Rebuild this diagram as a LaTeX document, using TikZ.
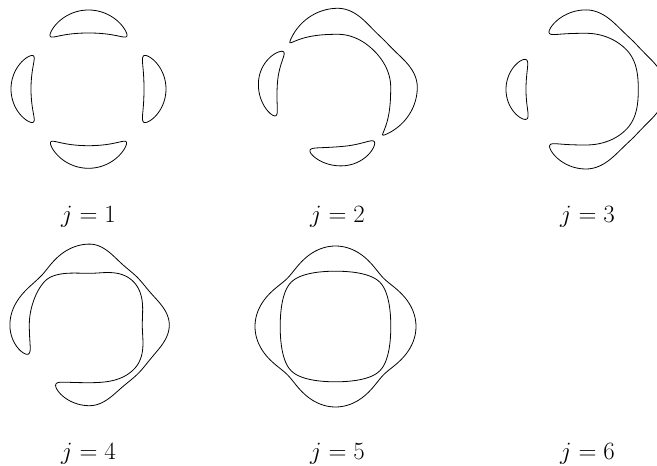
\documentclass[tikz,border=0pt]{standalone}
\usepackage{tikz}
% tip half-lobe: #1 axis angle, #2 signed extent H, #3 shape H0, #4 Ta, #5 rho_a, #6 rho_e, #7 side (+1 outer,-1 inner), #8 domain
\newcommand\tiph[8]{%
 -- plot[domain=#8, samples=45] ({#1+(#2)*sin(\x)}:{#5+(#6-#5)*sin(\x)*sin(\x)+(#7)*(#4)*sqrt(max(0,(cos(4*#3*sin(\x))-cos(4*#3))/(1-cos(4*#3))))})}
% join half-lobe (mid/thickness form): #1 axis, #2 dir, #3 Ta, #4 rho_a, #5 Tn, #6 rho_n, #7 side, #8 domain, #9 exponent
\newcommand\joinh[9]{%
 -- plot[domain=#8, samples=35] ({#1+(#2)*\x/2}:{#6+(#4-#6)*(1+cos(2*\x))/2+(#7)*((#5)^(#9)+((#3)^(#9)-(#5)^(#9))*(1+cos(2*\x))/2)^(1/(#9))})}
% join half-lobe (radius form): #1 axis, #2 dir, #3 radius at axis, #4 radius at neck, #5 exponent q, #6 domain
\newcommand\joinr[6]{%
 -- plot[domain=#6, samples=35] ({#1+(#2)*\x/2}:{#4+(#3-#4)*(max(0.00001,(1+cos(2*\x))/2))^(#5)})}
% crescent: #1 m, #2 H, #3 Ta, #4 rho_a, #5 rho_e at m-H, #6 rho_e at m+H
\newcommand\crescent[6]{%
 \draw[curve] ({#1-(#2)}:#5) \tiph{#1}{-#2}{#2}{#3}{#4}{#5}{1}{90:0}
   \tiph{#1}{#2}{#2}{#3}{#4}{#6}{1}{0:90}
   \tiph{#1}{#2}{#2}{#3}{#4}{#6}{-1}{90:0}
   \tiph{#1}{-#2}{#2}{#3}{#4}{#5}{-1}{0:90} -- cycle;}
\begin{document}
\begin{tikzpicture}[x=1pt,y=1pt]
\tikzset{curve/.style={line width=0.8pt, line join=round},
         lab/.style={anchor=base, inner sep=0pt, font=\fontsize{26}{31}\selectfont}}
\useasboundingbox (0,0) rectangle (657,466);
\clip (0,0) rectangle (657,466);
% j = 1
\begin{scope}[shift={(88.5,377)}]
 \crescent{0}{31}{11}{66.5}{64.5}{64.5}
 \crescent{90}{36}{11.5}{67.5}{65}{65}
 \crescent{180}{31}{10}{67.5}{64.5}{64.5}
 \crescent{270}{35.5}{11.3}{68}{65}{65}
\end{scope}
% j = 2
\begin{scope}[shift={(337.8,378.8)}]
 \crescent{175.8}{28.9}{9.5}{70}{65}{68.3}
 \crescent{275}{28.8}{9.7}{69.1}{68.7}{65.6}
 \draw[curve] (-46.8:65.6)
   \tiph{0}{-46.8}{43}{13.3}{66.2}{65.6}{1}{90:0}
   \joinr{0}{1}{79.5}{66}{1.3}{0:90}
   \joinr{90}{-1}{78.9}{66}{1.3}{90:0}
   \tiph{90}{47.1}{43}{13}{65.9}{65.3}{1}{0:90}
   \tiph{90}{47.1}{43}{13}{65.9}{65.3}{-1}{90:0}
   \joinr{90}{-1}{52.9}{51.4}{1}{0:90}
   \joinr{0}{1}{52.9}{51.4}{1}{90:0}
   \tiph{0}{-46.8}{43}{13.3}{66.2}{65.6}{-1}{0:90} -- cycle;
\end{scope}
% j = 3
\begin{scope}[shift={(586,376.5)}]
 \crescent{180}{26.5}{10}{70}{66.9}{66.4}
 \draw[curve] (123.1:67.1)
   \tiph{90}{33.1}{33.1}{11.7}{67.9}{67.1}{1}{90:0}
   \joinr{90}{-1}{79.6}{67.5}{1.3}{0:90}
   \joinr{0}{1}{80.1}{67.5}{1.3}{90:0}
   \joinr{0}{-1}{80.1}{67.5}{1.3}{0:90}
   \joinr{-90}{1}{79.5}{67.5}{1.3}{90:0}
   \tiph{-90}{-33}{33}{12}{67.5}{66.2}{1}{0:90}
   \tiph{-90}{-33}{33}{12}{67.5}{66.2}{-1}{90:0}
   \joinr{-90}{1}{55.5}{56.7}{1}{0:90}
   \joinr{0}{-1}{52.3}{56.7}{1}{90:0}
   \joinr{0}{1}{52.3}{56.7}{1}{0:90}
   \joinr{90}{-1}{56.2}{56.7}{1}{90:0}
   \tiph{90}{33.1}{33.1}{11.7}{67.9}{67.1}{-1}{0:90} -- cycle;
\end{scope}
% j = 4
\begin{scope}[shift={(89.5,141)}]
 \draw[curve] (205.4:67.7)
   \tiph{180}{25.4}{25.4}{9.7}{69.9}{67.7}{1}{90:0}
   \joinh{180}{-1}{9.7}{69.9}{3.2}{65.7}{1}{0:90}{1.6}
   \joinh{90}{1}{14.6}{66.3}{3.2}{65.7}{1}{90:0}{1.6}
   \joinr{90}{-1}{80.9}{67.5}{1.8}{0:90}
   \joinr{0}{1}{79.8}{67.5}{1.8}{90:0}
   \joinr{0}{-1}{79.8}{68.7}{1.8}{0:90}
   \joinr{-90}{1}{80.7}{68.7}{1.8}{90:0}
   \tiph{-90}{-29.6}{29.6}{11.5}{69.2}{67.9}{1}{0:90}
   \tiph{-90}{-29.6}{29.6}{11.5}{69.2}{67.9}{-1}{90:0}
   \joinr{-90}{1}{57.7}{62.7}{1}{0:90}
   \joinr{0}{-1}{52.8}{62.7}{1}{90:0}
   \joinr{0}{1}{52.8}{61.7}{1}{0:90}
   \joinr{90}{-1}{51.7}{61.7}{1}{90:0}
   \joinh{90}{1}{14.6}{66.3}{3.2}{65.7}{-1}{0:90}{1.6}
   \joinh{180}{-1}{9.7}{69.9}{3.2}{65.7}{-1}{90:0}{1.6}
   \tiph{180}{25.4}{25.4}{9.7}{69.9}{67.7}{-1}{0:90} -- cycle;
\end{scope}
% j = 5
\begin{scope}[shift={(335.5,139.5)}]
 \draw[curve] plot[domain=0:360, samples=241] (\x:{65.4+(67.9-65.4)*(1+cos(4*\x))/2+(2.75^1.6+(12.6^1.6-2.75^1.6)*(1+cos(4*\x))/2)^(1/1.6)}) -- cycle;
 \draw[curve] plot[domain=0:360, samples=241] (\x:{65.4+(67.9-65.4)*(1+cos(4*\x))/2-(2.75^1.6+(12.6^1.6-2.75^1.6)*(1+cos(4*\x))/2)^(1/1.6)}) -- cycle;
\end{scope}
% labels
\node[lab] (l1) at (88.5,243) {$j=1$};
\node[lab] (l2) at (337.5,243) {$j=2$};
\node[lab] (l3) at (587.5,243) {$j=3$};
\node[lab] (l4) at (88.5,6.5) {$j=4$};
\node[lab] (l5) at (337.5,6.5) {$j=5$};
\node[lab] (l6) at (587.5,6.5) {$j=6$};
\end{tikzpicture}
\end{document}
